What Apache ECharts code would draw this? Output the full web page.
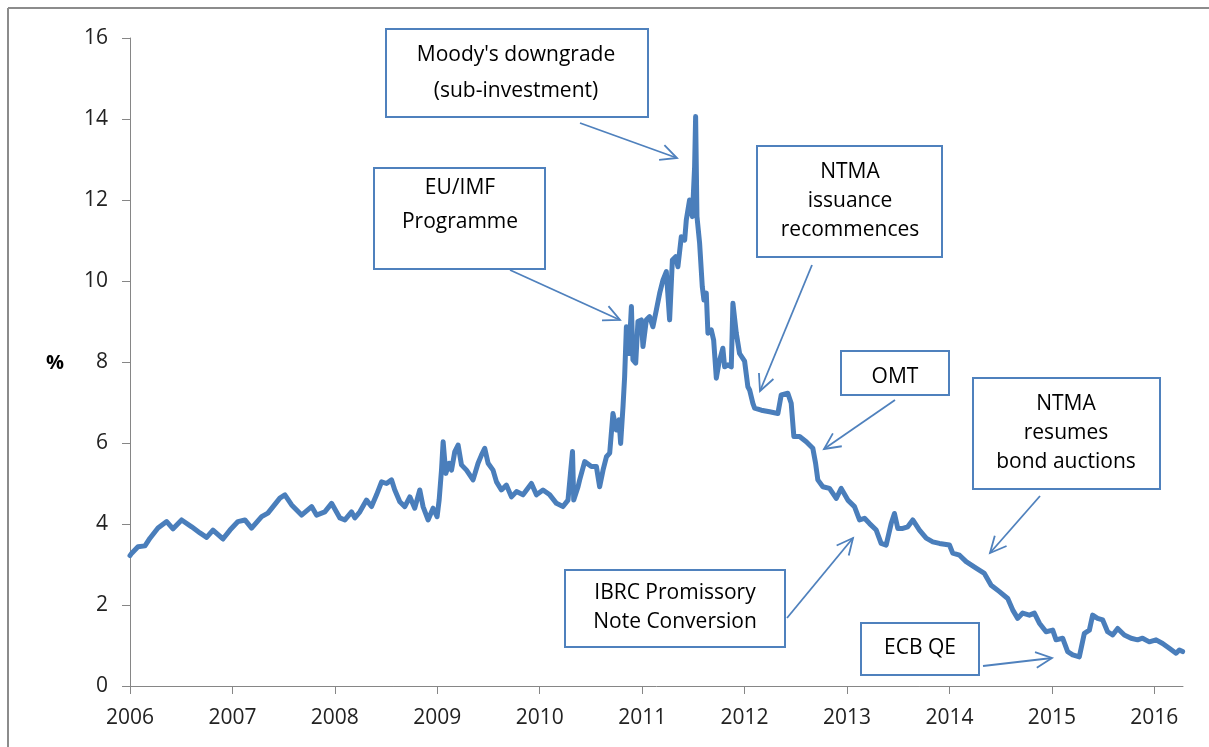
<!DOCTYPE html>
<html>
<head>
<meta charset="utf-8">
<script src="https://cdn.jsdelivr.net/npm/echarts@6/dist/echarts.min.js"></script>
<style>
html,body{margin:0;padding:0;background:#fff;}
#chart{width:1209px;height:747px;}
</style>
</head>
<body>
<div id="chart"></div>
<script>
// Irish 10-year government bond yield (%)
const years = [
2006.000,2006.017,2006.078,2006.146,2006.195,2006.273,2006.358,2006.420,2006.504,2006.602,
2006.683,2006.748,2006.810,2006.907,2006.976,2007.054,2007.122,2007.187,2007.285,2007.346,
2007.463,2007.512,2007.578,2007.675,2007.773,2007.821,2007.902,2007.968,2008.049,2008.098,
2008.163,2008.195,2008.244,2008.309,2008.358,2008.407,2008.456,2008.504,2008.553,2008.585,
2008.634,2008.683,2008.732,2008.780,2008.829,2008.861,2008.910,2008.959,2008.998,2009.018,
2009.041,2009.057,2009.083,2009.115,2009.139,2009.171,2009.203,2009.236,2009.285,2009.349,
2009.398,2009.431,2009.463,2009.496,2009.544,2009.578,2009.626,2009.675,2009.724,2009.773,
2009.837,2009.919,2009.968,2010.032,2010.098,2010.163,2010.227,2010.276,2010.300,2010.320,
2010.332,2010.374,2010.390,2010.439,2010.504,2010.553,2010.585,2010.618,2010.651,2010.683,
2010.715,2010.748,2010.774,2010.790,2010.813,2010.829,2010.846,2010.871,2010.895,2010.910,
2010.937,2010.959,2010.992,2011.008,2011.041,2011.073,2011.105,2011.138,2011.171,2011.203,
2011.236,2011.268,2011.295,2011.327,2011.349,2011.382,2011.415,2011.431,2011.463,2011.490,
2011.512,2011.522,2011.535,2011.561,2011.587,2011.603,2011.626,2011.642,2011.675,2011.698,
2011.724,2011.749,2011.788,2011.805,2011.837,2011.870,2011.886,2011.919,2011.951,2012.000,
2012.032,2012.049,2012.081,2012.098,2012.163,2012.244,2012.325,2012.358,2012.422,2012.455,
2012.481,2012.537,2012.602,2012.666,2012.693,2012.715,2012.764,2012.829,2012.895,2012.943,
2013.008,2013.073,2013.122,2013.171,2013.220,2013.285,2013.333,2013.382,2013.431,2013.463,
2013.496,2013.544,2013.593,2013.642,2013.707,2013.773,2013.837,2013.902,2014.000,2014.032,
2014.098,2014.163,2014.260,2014.341,2014.407,2014.488,2014.569,2014.617,2014.666,2014.715,
2014.780,2014.829,2014.878,2014.943,2015.008,2015.041,2015.105,2015.154,2015.203,2015.268,
2015.317,2015.366,2015.398,2015.446,2015.496,2015.544,2015.593,2015.642,2015.707,2015.773,
2015.837,2015.885,2015.951,2016.017,2016.081,2016.146,2016.212,2016.244,2016.276
];
const yields = [
3.22,3.28,3.44,3.46,3.65,3.90,4.06,3.88,4.10,3.93,
3.78,3.67,3.85,3.63,3.85,4.06,4.10,3.90,4.18,4.27,
4.64,4.72,4.47,4.22,4.43,4.22,4.30,4.51,4.15,4.10,
4.30,4.15,4.30,4.59,4.43,4.72,5.04,5.00,5.09,4.84,
4.55,4.43,4.67,4.39,4.84,4.43,4.10,4.39,4.18,4.59,
5.33,6.03,5.25,5.50,5.33,5.79,5.95,5.46,5.33,5.09,
5.50,5.70,5.87,5.50,5.33,5.04,4.84,4.96,4.67,4.80,
4.72,5.00,4.72,4.84,4.72,4.51,4.43,4.59,5.25,5.79,
4.59,4.92,5.09,5.54,5.42,5.42,4.92,5.33,5.66,5.75,
6.73,6.32,6.57,5.99,6.90,7.64,8.87,8.21,9.37,8.05,
7.97,9.00,9.04,8.38,9.04,9.12,8.87,9.28,9.70,10.02,
10.23,9.04,10.52,10.60,10.35,11.09,11.01,11.51,12.00,11.59,
12.82,14.06,11.59,10.93,9.86,9.53,9.70,8.71,8.79,8.54,
7.60,7.97,8.34,7.88,7.93,7.88,9.45,8.71,8.21,8.02,
7.39,7.31,6.98,6.86,6.81,6.77,6.73,7.19,7.23,6.98,
6.16,6.16,6.03,5.87,5.50,5.09,4.92,4.88,4.63,4.88,
4.59,4.43,4.10,4.14,4.01,3.85,3.52,3.48,4.01,4.26,
3.89,3.89,3.93,4.10,3.85,3.65,3.56,3.52,3.48,3.28,
3.23,3.07,2.91,2.78,2.49,2.33,2.16,1.88,1.67,1.80,
1.75,1.80,1.55,1.34,1.38,1.14,1.18,0.85,0.77,0.72,
1.30,1.38,1.75,1.67,1.63,1.34,1.26,1.42,1.26,1.18,
1.14,1.18,1.09,1.14,1.05,0.93,0.81,0.89,0.85
];
const yearTicks = [2006,2007,2008,2009,2010,2011,2012,2013,2014,2015,2016];

const annotations = [
  {text:"Moody's downgrade\n(sub-investment)", box:[386,29,262,88], tx:516, ty:73, lh:36, arrow:[580,123,677,158]},
  {text:"EU/IMF\nProgramme", box:[374,168,171,101], tx:460, ty:205, lh:34, arrow:[510,270,620,320]},
  {text:"NTMA\nissuance\nrecommences", box:[757,146,185,111], tx:850, ty:201, lh:29, arrow:[812,265,760,391]},
  {text:"OMT", box:[841,351,108,44], tx:895, ty:377, lh:29, arrow:[895,400,824,449]},
  {text:"NTMA\nresumes\nbond auctions", box:[973,378,187,111], tx:1066, ty:433, lh:29, arrow:[1040,496,990,553]},
  {text:"IBRC Promissory\nNote Conversion", box:[565,570,220,77], tx:675, ty:608, lh:29, arrow:[787,618,853,538]},
  {text:"ECB QE", box:[861,623,118,52], tx:920, ty:648, lh:29, arrow:[983,666,1052,658]}
];

const BLUE = '#4a7ebb';
const BOXBLUE = '#4f81bd';
const FONT = '"Open Sans", "DejaVu Sans", sans-serif';

const graphics = [];
// outer frame (top & left)
graphics.push({type:'line', shape:{x1:8,y1:8,x2:1209,y2:8}, style:{stroke:'#8c8c8c', lineWidth:2}, z:200});
graphics.push({type:'line', shape:{x1:8,y1:8,x2:8,y2:747}, style:{stroke:'#8c8c8c', lineWidth:2}, z:200});
// y axis name
graphics.push({type:'text', x:55, y:363, style:{text:'%', fontSize:20, fontWeight:'bold', fontFamily:FONT, fill:'#000', align:'center', verticalAlign:'middle'}, z:200});

annotations.forEach(a => {
  const [bx,by,bw,bh] = a.box;
  graphics.push({type:'rect', shape:{x:bx,y:by,width:bw,height:bh}, style:{fill:'#fff', stroke:BOXBLUE, lineWidth:2}, z:100});
  graphics.push({type:'text', x:a.tx, y:a.ty, style:{text:a.text, fontSize:21, fontFamily:FONT, fill:'#000', align:'center', verticalAlign:'middle', lineHeight:a.lh}, z:101});
  const [x1,y1,x2,y2] = a.arrow;
  const ang = Math.atan2(y2-y1, x2-x1), L = 18, t = 0.45;
  graphics.push({type:'line', shape:{x1,y1,x2,y2}, style:{stroke:BOXBLUE, lineWidth:1.8}, z:100});
  graphics.push({type:'polyline', shape:{points:[
    [x2 - L*Math.cos(ang - t), y2 - L*Math.sin(ang - t)],
    [x2, y2],
    [x2 - L*Math.cos(ang + t), y2 - L*Math.sin(ang + t)]
  ]}, style:{stroke:BOXBLUE, lineWidth:1.8, fill:null}, z:100});
});

const chart = echarts.init(document.getElementById('chart'), null, {renderer:'canvas'});
chart.setOption({
  animation:false,
  backgroundColor:'#fff',
  grid:{left:130, right:26, top:38, bottom:61, containLabel:false},
  xAxis:{
    type:'value', min:2006, max:2016.28,
    axisLine:{show:true, lineStyle:{color:'#868686', width:1}},
    axisTick:{show:true, length:8, lineStyle:{color:'#868686'}, customValues:yearTicks},
    axisLabel:{customValues:yearTicks, margin:22, fontSize:21, fontFamily:FONT, color:'#222',
      formatter:v => (Number.isInteger(v) ? String(v) : '')},
    splitLine:{show:false}
  },
  yAxis:{
    type:'value', min:0, max:16, interval:2,
    axisLine:{show:true, lineStyle:{color:'#868686', width:1}},
    axisTick:{show:true, length:8, lineStyle:{color:'#868686'}},
    axisLabel:{margin:22, fontSize:21, fontFamily:FONT, color:'#222'},
    splitLine:{show:false}
  },
  series:[{
    type:'line',
    data: years.map((y,i)=>[y, yields[i]]),
    showSymbol:false,
    lineStyle:{color:BLUE, width:5, join:'round', cap:'round'},
    itemStyle:{color:BLUE}
  }],
  graphic: graphics
});
</script>
</body>
</html>
